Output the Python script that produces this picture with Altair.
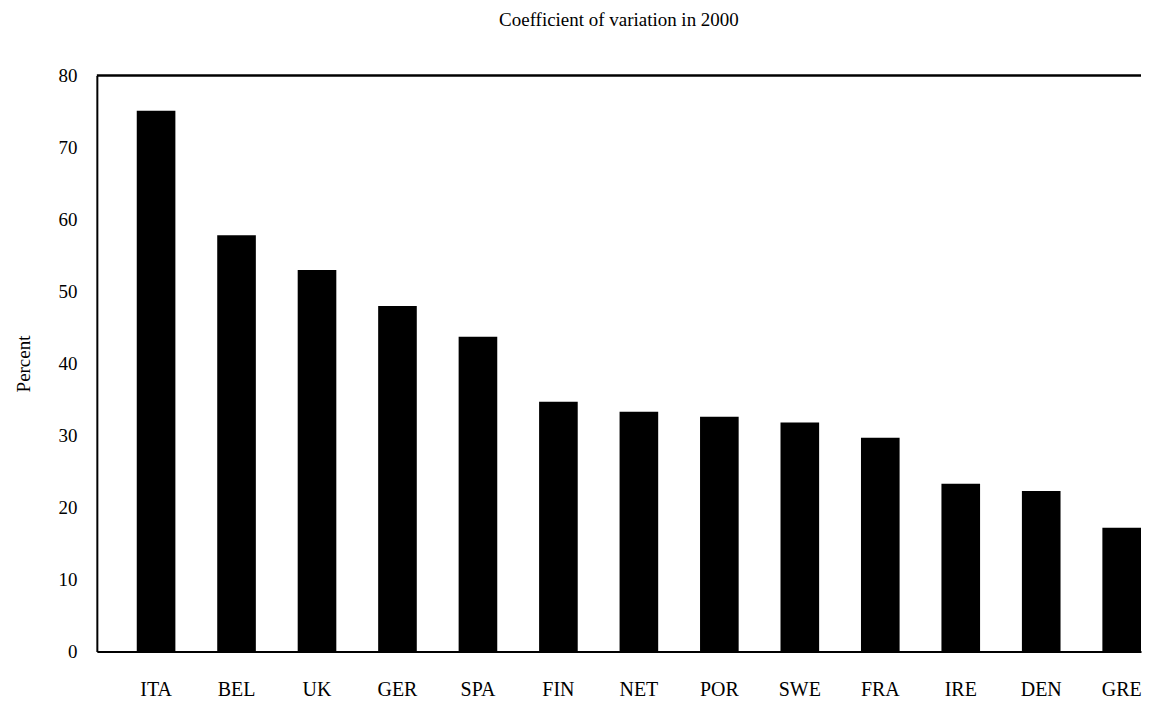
import altair as alt
import pandas as pd

countries = ["ITA", "BEL", "UK", "GER", "SPA", "FIN", "NET", "POR", "SWE", "FRA", "IRE", "DEN", "GRE"]
values = [75.1, 57.8, 53.0, 48.0, 43.7, 34.7, 33.3, 32.6, 31.8, 29.7, 23.3, 22.3, 17.2]
y_ticks = [0, 10, 20, 30, 40, 50, 60, 70, 80]

df = pd.DataFrame({"country": countries, "value": values})
FONT = "Liberation Serif"

bars = alt.Chart(df).mark_bar(color="black").encode(
    x=alt.X("country:N", sort=countries, title=None,
            scale=alt.Scale(paddingInner=0.52, paddingOuter=0.248, align=1),
            axis=alt.Axis(labelAngle=0, labelFont=FONT, labelFontSize=20, labelColor="black",
                          labelPadding=28, ticks=False, domainColor="black", domainWidth=2)),
    y=alt.Y("value:Q", title="Percent",
            scale=alt.Scale(domain=[0, 80], nice=False),
            axis=alt.Axis(values=y_ticks, grid=False, ticks=False, labelFont=FONT, labelFontSize=19,
                          labelColor="black", labelPadding=20, titleFont=FONT, titleFontSize=19,
                          titleFontWeight="normal", titleColor="black", titlePadding=24,
                          domainColor="black", domainWidth=2)),
)

top = alt.Chart(pd.DataFrame({"value": [80]})).mark_rule(color="black", strokeWidth=2.5).encode(
    y=alt.Y("value:Q")
)

chart = alt.layer(bars, top).properties(
    width=1046, height=577,
    title=alt.TitleParams("Coefficient of variation in 2000", font=FONT, fontSize=19,
                          fontWeight="normal", color="black", offset=37),
    padding={"left": 7, "top": 2, "right": 0, "bottom": 0},
).configure(background="white").configure_view(stroke=None, strokeWidth=0)

chart.save("out.html", embed_options={"renderer": "svg", "actions": False})
